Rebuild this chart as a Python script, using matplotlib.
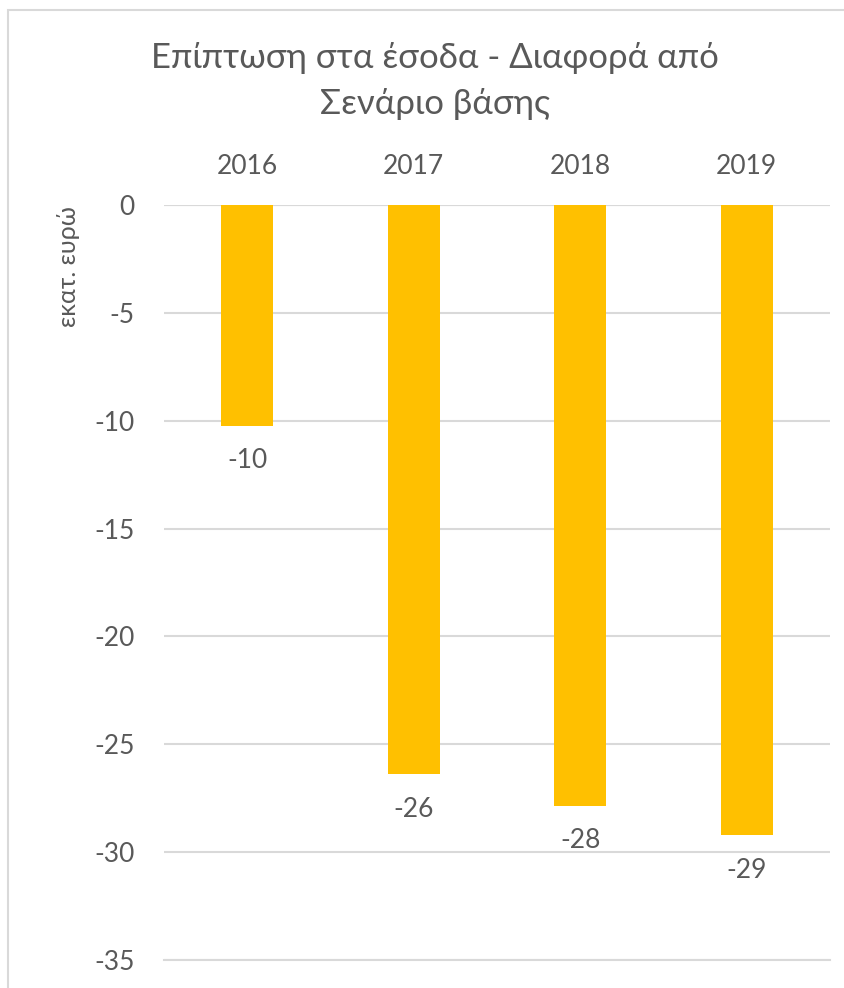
import matplotlib.pyplot as plt
from matplotlib.patches import Rectangle

# revenue impact vs. base scenario (million euro)
years = ['2016', '2017', '2018', '2019']
impact = [-10.24, -26.4, -27.84, -29.22]
yticks = [0, -5, -10, -15, -20, -25, -30, -35]

plt.rcParams['font.family'] = ['Lato', 'DejaVu Sans']
grey = '#595959'
bar_color = '#FFC000'
grid_color = '#D9D9D9'

fig = plt.figure(figsize=(8.44, 9.88), dpi=100)
ax = fig.add_axes([164 / 844, 1 - 960 / 988, 666 / 844, 755 / 988])

x = range(len(years))
bars = ax.bar(x, impact, width=0.31, color=bar_color, zorder=3)
ax.set_xlim(-0.5, len(years) - 0.5)
ax.set_ylim(-35, 0)

ax.set_yticks(yticks)
ax.set_yticklabels([str(v) for v in yticks])
ax.set_xticks(list(x))
ax.set_xticklabels(years)
ax.xaxis.tick_top()
ax.tick_params(axis='x', length=0, pad=19, labelsize=19, colors=grey)
ax.tick_params(axis='y', length=0, pad=21, labelsize=19, colors=grey)

for s in ax.spines.values():
    s.set_visible(False)
ax.grid(axis='y', color=grid_color, linewidth=1.5, zorder=0)
ax.axhline(0, color=grid_color, linewidth=1.5, zorder=1)
ax.axhline(-35, color=grid_color, linewidth=1.5, zorder=1, clip_on=False)

for b, v in zip(bars, impact):
    ax.annotate(f'{v:.0f}', (b.get_x() + b.get_width() / 2, v),
                xytext=(0, -16), textcoords='offset points',
                ha='center', va='top', fontsize=19, color=grey)

fig.text(435 / 844, 1 - 81 / 988, 'Επίπτωση στα έσοδα - Διαφορά από\nΣενάριο βάσης',
         ha='center', va='center', fontsize=25, color=grey, linespacing=1.55)
fig.text(68 / 844, 1 - 267 / 988, 'εκατ. ευρώ', rotation=90,
         ha='center', va='center', fontsize=18, color=grey)

# chart area border
fig.patches.append(Rectangle((8 / 844, -0.1), 1.2, 1 - 10 / 988 + 0.1,
                             transform=fig.transFigure, fill=False,
                             edgecolor=grid_color, linewidth=1.5))

fig.savefig('out.png', dpi=100)
